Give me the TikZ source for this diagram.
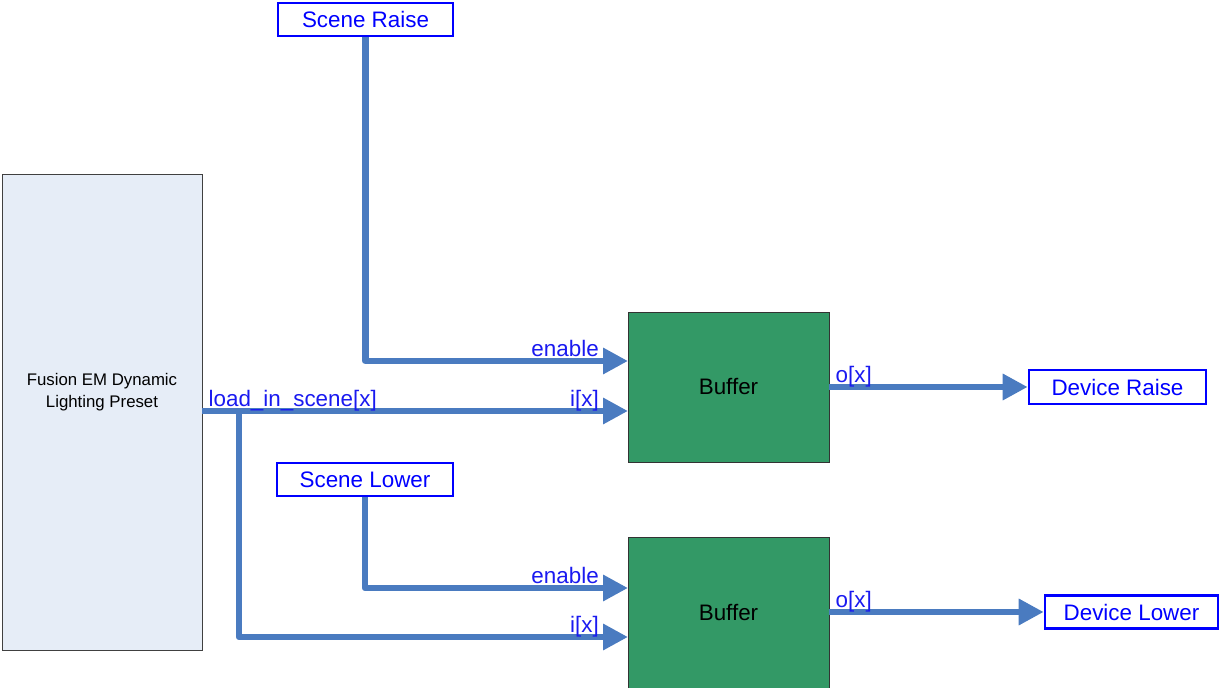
\documentclass[tikz,border=0pt]{standalone}
\usepackage{fontspec}
\setmainfont{Liberation Sans}
\usetikzlibrary{arrows.meta}

\definecolor{wireblue}{HTML}{4A7BC0}
\definecolor{lblblue}{HTML}{1A1AF0}
\definecolor{bufgreen}{HTML}{339966}
\definecolor{presetbg}{HTML}{E6EDF7}

\begin{document}
\begin{tikzpicture}[x=0.5pt,y=-0.5pt,
	wire/.style={draw=wireblue, line width=3.25pt, line join=round},
	arr/.style={wire, -{Triangle[length=12.5pt,width=12.5pt]}},
	lbl/.style={text=lblblue, font=\fontsize{11.2}{13}\selectfont, inner sep=0pt},
	io/.style={draw=blue, line width=1.3pt, fill=white, text=blue, inner sep=0pt,
		font=\fontsize{11.2}{13}\selectfont},
	buf/.style={draw=black!80, fill=bufgreen, minimum width=100.5pt, minimum height=75pt,
		inner sep=0pt, font=\fontsize{11.2}{13}\selectfont}]
	\useasboundingbox (0,0) rectangle (1220,688);
	\node[draw=black!75, fill=presetbg, minimum width=100pt, minimum height=238pt, inner sep=0pt,
		label={[yshift=10pt, align=center, font=\fontsize{8.4}{11}\selectfont]center:Fusion EM Dynamic\\Lighting Preset}]
		(preset) at (102,412) {};
	\node[io, minimum width=87.5pt, minimum height=16.5pt] (sceneRaise) at (365.5,19.5) {Scene Raise};
	\node[io, minimum width=88pt, minimum height=16.5pt] (sceneLower) at (365,479.5) {Scene Lower};
	\node[buf] (buf1) at (728.5,387) {Buffer};
	\node[buf, minimum height=76pt] (buf2) at (728.5,613) {Buffer};
	\node[io, minimum width=88.5pt, minimum height=17pt] (devRaise) at (1117.5,387) {Device Raise};
	\node[io, minimum width=86.5pt, minimum height=16.5pt] (devLower) at (1131.5,612) {Device Lower};
	\coordinate (en1) at (628,361);
	\coordinate (in1) at (628,411);
	\coordinate (en2) at (628,588);
	\coordinate (in2) at (628,637);
	\coordinate (split) at (239,411);
	\draw[arr] (sceneRaise.south) |- node[lbl, pos=1, anchor=base east, xshift=-13pt, yshift=2pt] {enable} (en1);
	\draw[arr] (preset.east |- in1) -- node[lbl, pos=0, anchor=base west, xshift=1.5pt, yshift=2pt] {load\_in\_scene[x]}
		node[lbl, pos=1, anchor=base east, xshift=-13pt, yshift=2pt] {i[x]} (in1);
	\draw[arr] (sceneLower.south) |- node[lbl, pos=1, anchor=base east, xshift=-13pt, yshift=2pt] {enable} (en2);
	\draw[arr] (split) |- node[lbl, pos=1, anchor=base east, xshift=-13pt, yshift=2pt] {i[x]} (in2);
	\draw[arr] (buf1.east) -- node[lbl, pos=0, anchor=base west, xshift=1.5pt, yshift=2pt] {o[x]} (devRaise.west);
	\draw[arr] (buf2.east |- devLower) -- node[lbl, pos=0, anchor=base west, xshift=1.5pt, yshift=2pt] {o[x]} (devLower.west);
\end{tikzpicture}
\end{document}
